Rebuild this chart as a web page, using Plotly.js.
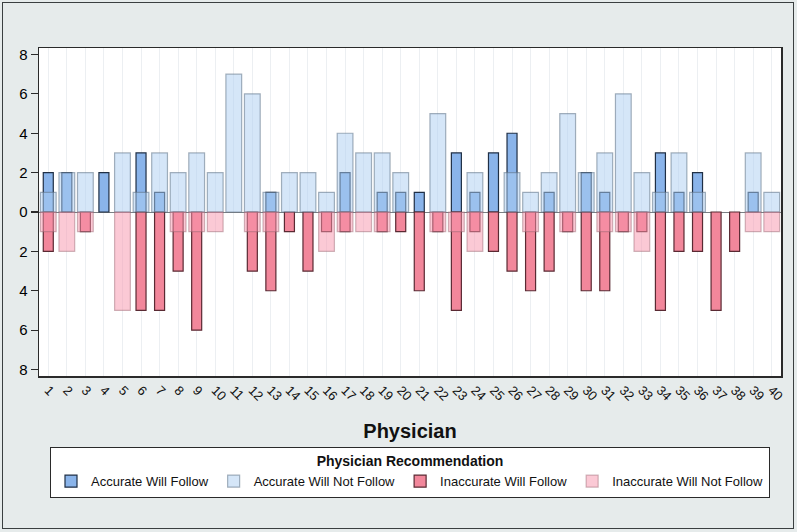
<!DOCTYPE html>
<html>
<head>
<meta charset="utf-8">
<script src="https://cdn.plot.ly/plotly-3.0.1.min.js"></script>
<style>
  html, body { margin: 0; padding: 0; background: #e6ebeb; }
  #wrap { position: relative; width: 797px; height: 532px; }
  #plot { width: 797px; height: 532px; }
  #frame { position: absolute; left: 2px; top: 2px; width: 790px; height: 525px;
           border: 1.5px solid #3a3f40; pointer-events: none; }
</style>
</head>
<body>
<div id="wrap"><div id="plot"></div><div id="frame"></div></div>
<script>
const physicians = Array.from({length: 40}, (_, i) => i + 1);
const tickLabels = physicians.map(String);

const accurateWillFollow =      [2,2,0,2,0,3,1,0,0,0, 0,0,1,0,0,0,2,0,1,1, 1,0,3,1,3,4,0,1,0,2, 1,0,0,3,1,2,0,0,1,0];
const accurateWillNotFollow =   [1,2,2,0,3,1,3,2,3,2, 7,6,1,2,2,1,4,3,3,2, 0,5,0,2,0,2,1,2,5,2, 3,6,2,1,3,1,0,0,3,1];
const inaccurateWillFollow =    [2,0,1,0,0,5,5,3,6,0, 0,3,4,1,3,1,1,0,1,1, 4,1,5,1,2,3,4,3,1,4, 4,1,1,5,2,2,5,2,0,0];
const inaccurateWillNotFollow = [1,2,1,0,5,0,0,1,1,1, 0,1,1,0,0,2,1,1,1,0, 0,1,1,2,0,0,1,0,1,0, 1,1,2,0,0,0,0,0,1,1];

const yTickVals = [-8,-6,-4,-2,0,2,4,6,8];
const yTickText = ['8','6','4','2','0','2','4','6','8'];

const up = arr => arr.map(v => v === 0 ? null : v);
const down = arr => arr.map(v => v === 0 ? null : -v);

const wideW = 0.85, narrowW = 0.54;

const traces = [
  { type: 'bar', name: 'Accurate Will Follow', x: physicians, y: up(accurateWillFollow),
    width: narrowW, legendrank: 1,
    marker: { color: '#8ab4ea', line: { color: '#1f2f45', width: 1.2 } } },
  { type: 'bar', name: 'Inaccurate Will Follow', x: physicians, y: down(inaccurateWillFollow),
    width: narrowW, legendrank: 3,
    marker: { color: '#f2879b', line: { color: '#5a2a33', width: 1.2 } } },
  { type: 'bar', name: 'Accurate Will Not Follow', x: physicians, y: up(accurateWillNotFollow),
    width: wideW, legendrank: 2,
    marker: { color: 'rgba(171,205,241,0.5)', line: { color: 'rgba(95,115,135,0.55)', width: 1.2 } } },
  { type: 'bar', name: 'Inaccurate Will Not Follow', x: physicians, y: down(inaccurateWillNotFollow),
    width: wideW, legendrank: 4,
    marker: { color: 'rgba(247,147,171,0.5)', line: { color: 'rgba(150,100,110,0.45)', width: 1.2 } } }
];

const layout = {
  width: 797, height: 532,
  paper_bgcolor: '#e6ebeb',
  plot_bgcolor: '#ffffff',
  barmode: 'overlay',
  showlegend: true,
  hovermode: false,
  margin: { l: 39, r: 16, t: 48, b: 156, autoexpand: false },
  font: { family: 'Liberation Sans, Arial, sans-serif', color: '#111' },
  xaxis: {
    type: 'linear', range: [0.5, 40.5],
    tickvals: physicians, ticktext: tickLabels,
    tickangle: 45, ticks: '', ticklen: 0,
    tickfont: { size: 13, color: '#111' },
    showgrid: true, gridcolor: '#eceff2', gridwidth: 1,
    zeroline: false,
    showline: true, mirror: true, linecolor: '#2a2a2a', linewidth: 1.5,
    automargin: false,
    title: { text: 'Physician', font: { size: 20, color: '#111', family: 'Liberation Sans, Arial, sans-serif', weight: 'bold' }, standoff: 21 }
  },
  yaxis: {
    range: [-8.33, 8.33],
    tickvals: yTickVals, ticktext: yTickText,
    ticks: 'outside', ticklen: 7, tickwidth: 1.2, tickcolor: '#2a2a2a',
    tickfont: { size: 15, color: '#000' },
    showgrid: false,
    zeroline: true, zerolinecolor: '#7a7f83', zerolinewidth: 1,
    showline: true, mirror: true, linecolor: '#2a2a2a', linewidth: 1.5,
    automargin: false
  },
  legend: {
    orientation: 'h',
    x: 0.5, xanchor: 'center', xref: 'paper',
    y: -0.2165, yanchor: 'top', yref: 'paper',
    bgcolor: '#ffffff', bordercolor: '#2a2a2a', borderwidth: 1,
    font: { size: 13, color: '#111' },
    traceorder: 'normal',
    title: { text: 'Physician Recommendation', side: 'top center',
             font: { size: 14, color: '#111', weight: 'bold' } },
    itemwidth: 30
  }
};

Plotly.newPlot('plot', traces, layout, { displayModeBar: false, staticPlot: true });
</script>
</body>
</html>
